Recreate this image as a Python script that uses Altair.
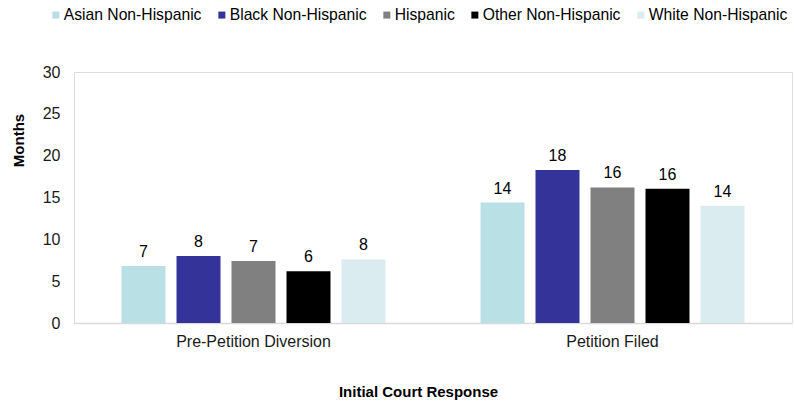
import altair as alt
import pandas as pd

# Court response categories (x axis) and race/ethnicity groups (bars within each)
responses = ["Pre-Petition Diversion", "Petition Filed"]
groups = [
    "Asian Non-Hispanic",
    "Black Non-Hispanic",
    "Hispanic",
    "Other Non-Hispanic",
    "White Non-Hispanic",
]
colors = ["#B9E0E4", "#333399", "#808080", "#000000", "#DAECF0"]

# Average months, one list per court response, in the order of `groups`
pre_petition_months = [6.8, 8.0, 7.4, 6.2, 7.6]
petition_filed_months = [14.4, 18.3, 16.2, 16.05, 14.0]

rows = []
for resp, vals in zip(responses, [pre_petition_months, petition_filed_months]):
    for g, v in zip(groups, vals):
        rows.append({"response": resp, "group": g, "months": v})
df = pd.DataFrame(rows)

FONT = "Liberation Sans"
FS = 16

x_enc = alt.X(
    "response:N",
    sort=responses,
    scale=alt.Scale(paddingInner=0, paddingOuter=0),
    axis=alt.Axis(
        title="Initial Court Response",
        labelAngle=0,
        ticks=False,
        labelPadding=10,
        labelFontSize=FS,
        labelColor="#1a1a1a",
        titleFontSize=15,
        titleFontWeight="bold",
        titleColor="#000000",
        titleY=61,
        titleX=344,
        domainColor="#d9d9d9",
        domainWidth=1.5,
    ),
)
xoff_enc = alt.XOffset(
    "group:N",
    sort=groups,
    scale=alt.Scale(paddingInner=0.2, paddingOuter=0.864),
)
y_enc = alt.Y(
    "months:Q",
    scale=alt.Scale(domain=[0, 30], nice=False),
    axis=alt.Axis(
        title="Months",
        values=[0, 5, 10, 15, 20, 25, 30],
        grid=False,
        domain=False,
        ticks=False,
        labelPadding=14,
        labelFontSize=FS,
        labelColor="#1a1a1a",
        titleFontSize=15,
        titleFontWeight="bold",
        titleColor="#000000",
        titleX=-48,
        titleY=68,
    ),
)

bars = alt.Chart(df).mark_bar().encode(
    x=x_enc,
    xOffset=xoff_enc,
    y=y_enc,
    color=alt.Color(
        "group:N",
        sort=groups,
        scale=alt.Scale(domain=groups, range=colors),
        legend=alt.Legend(
            title=None,
            orient="none",
            direction="horizontal",
            legendX=-26,
            legendY=-65,
            symbolType="square",
            symbolSize=49,
            symbolStrokeWidth=0,
            labelFontSize=15.7,
            labelColor="#000000",
            labelOffset=0,
            columnPadding=12,
        ),
    ),
)

labels = alt.Chart(df).mark_text(
    baseline="alphabetic", dy=-9, fontSize=FS, color="#000000", font=FONT
).encode(
    x=alt.X("response:N", sort=responses),
    xOffset=alt.XOffset("group:N", sort=groups),
    y="months:Q",
    text=alt.Text("months:Q", format=".0f"),
)

chart = (
    alt.layer(bars, labels)
    .properties(
        width=718,
        height=251,
        autosize=alt.AutoSizeParams(type="none"),
        padding={"left": 74, "top": 72, "right": 2, "bottom": 80},
        background="white",
    )
    .configure_view(stroke=None)
    .configure(font=FONT)
)

chart.save("out.html", embed_options={"renderer": "svg", "actions": False})
